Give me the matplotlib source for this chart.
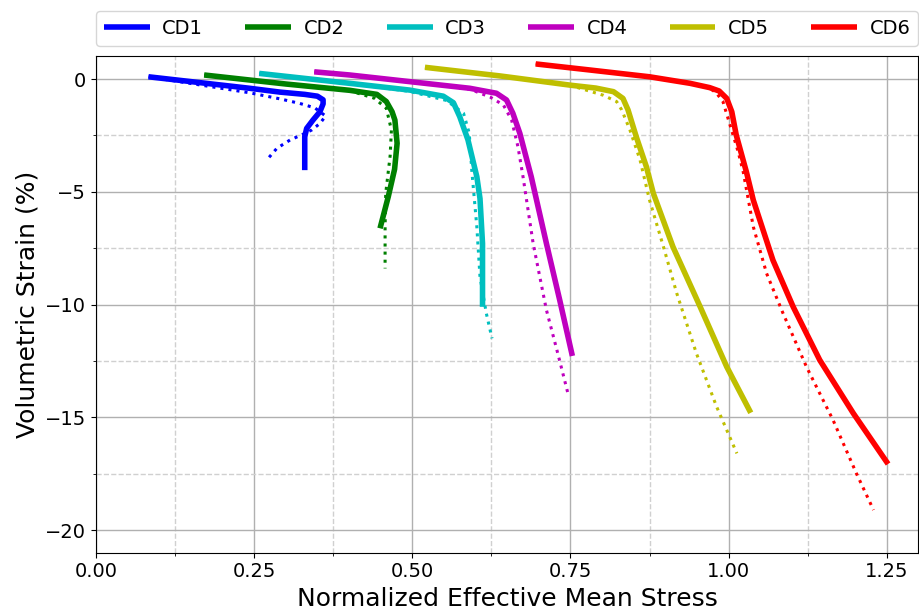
import matplotlib
matplotlib.use("Agg")
import matplotlib.pyplot as plt
from matplotlib.ticker import MultipleLocator

names = ["CD1", "CD2", "CD3", "CD4", "CD5", "CD6"]
colours = ["b", "g", "c", "m", "y", "r"]

# experiment (solid)
cd1_p = [0.083, 0.243, 0.291, 0.330, 0.350, 0.359, 0.359, 0.354, 0.343, 0.333, 0.330, 0.330]
cd1_v = [0.10, -0.41, -0.58, -0.68, -0.76, -0.92, -1.10, -1.45, -1.82, -2.19, -2.56, -4.04]
cd2_p = [0.171, 0.30, 0.401, 0.444, 0.459, 0.468, 0.4725, 0.476, 0.472, 0.462, 0.449]
cd2_v = [0.18, -0.22, -0.50, -0.68, -1.00, -1.45, -1.82, -2.85, -4.00, -5.22, -6.62]
cd3_p = [0.258, 0.401, 0.496, 0.549, 0.565, 0.575, 0.588, 0.602, 0.607, 0.611, 0.611]
cd3_v = [0.25, -0.19, -0.49, -0.76, -1.05, -1.67, -2.70, -4.33, -5.30, -7.29, -10.1]
cd4_p = [0.345, 0.401, 0.591, 0.633, 0.649, 0.659, 0.670, 0.688, 0.712, 0.733, 0.753]
cd4_v = [0.32, 0.18, -0.41, -0.63, -0.93, -1.52, -2.41, -4.33, -7.29, -9.80, -12.28]
cd5_p = [0.520, 0.638, 0.752, 0.790, 0.818, 0.833, 0.841, 0.854, 0.870, 0.881, 0.912, 0.955, 0.997, 1.035]
cd5_v = [0.52, 0.14, -0.28, -0.40, -0.56, -0.86, -1.37, -2.56, -3.89, -5.07, -7.44, -10.1, -12.76, -14.8]
cd6_p = [0.695, 0.781, 0.875, 0.939, 0.970, 0.985, 0.997, 1.005, 1.012, 1.028, 1.039, 1.070, 1.102, 1.144, 1.197, 1.252]
cd6_v = [0.67, 0.40, 0.10, -0.19, -0.38, -0.53, -0.86, -1.45, -2.48, -4.11, -5.37, -8.03, -10.1, -12.46, -14.82, -17.07]

# simulation (dotted)
sim1_p = [0.083, 0.191, 0.243, 0.291, 0.322, 0.346, 0.363, 0.354, 0.341, 0.328, 0.307, 0.286, 0.270]
sim1_v = [0.10, -0.38, -0.61, -0.88, -1.08, -1.28, -1.64, -1.97, -2.26, -2.44, -2.70, -3.07, -3.59]
sim2_p = [0.171, 0.30, 0.401, 0.440, 0.459, 0.467, 0.465, 0.458, 0.457, 0.457]
sim2_v = [0.18, -0.22, -0.52, -0.85, -1.30, -2.26, -3.40, -5.07, -6.55, -8.40]
sim3_p = [0.258, 0.401, 0.496, 0.554, 0.581, 0.590, 0.594, 0.602, 0.607, 0.617, 0.626]
sim3_v = [0.25, -0.19, -0.55, -0.95, -1.52, -2.40, -4.04, -6.55, -8.77, -10.39, -11.5]
sim4_p = [0.345, 0.401, 0.591, 0.623, 0.644, 0.657, 0.667, 0.675, 0.691, 0.712, 0.731, 0.746]
sim4_v = [0.32, 0.18, -0.45, -0.80, -1.15, -1.82, -3.00, -4.33, -7.29, -10.24, -12.28, -13.94]
sim5_p = [0.520, 0.638, 0.752, 0.802, 0.823, 0.831, 0.844, 0.860, 0.875, 0.897, 0.918, 0.949, 0.981, 1.013]
sim5_v = [0.52, 0.14, -0.30, -0.72, -1.00, -1.37, -2.26, -3.59, -5.37, -7.44, -9.50, -12.16, -14.53, -16.6]
sim6_p = [0.695, 0.781, 0.875, 0.939, 0.970, 0.981, 0.991, 1.015, 1.023, 1.039, 1.060, 1.086, 1.123, 1.165, 1.202, 1.229]
sim6_v = [0.67, 0.40, 0.10, -0.19, -0.40, -0.63, -1.00, -3.22, -4.11, -6.55, -8.62, -10.39, -12.76, -15.12, -17.49, -19.11]

exp_p = [cd1_p, cd2_p, cd3_p, cd4_p, cd5_p, cd6_p]
exp_v = [cd1_v, cd2_v, cd3_v, cd4_v, cd5_v, cd6_v]
sim_p = [sim1_p, sim2_p, sim3_p, sim4_p, sim5_p, sim6_p]
sim_v = [sim1_v, sim2_v, sim3_v, sim4_v, sim5_v, sim6_v]

fig = plt.figure(figsize=(9.2, 6.14), dpi=100)
ax = fig.add_axes([0.1043, 0.1, 0.894, 0.808])

for i in range(len(names)):
    ax.plot(sim_p[i], sim_v[i], ':', color=colours[i], lw=2.2)
    ax.plot(exp_p[i], exp_v[i], '-', color=colours[i], lw=4, label=names[i],
            solid_capstyle='butt', solid_joinstyle='round')

ax.set_xlim(0, 1.3)
ax.set_ylim(-21, 1)
ax.xaxis.set_major_locator(MultipleLocator(0.25))
ax.xaxis.set_minor_locator(MultipleLocator(0.125))
ax.yaxis.set_major_locator(MultipleLocator(5))
ax.yaxis.set_minor_locator(MultipleLocator(2.5))
ax.grid(which='major', color='#b0b0b0', lw=1)
ax.grid(which='minor', color='#d0d0d0', lw=1, ls='--')
ax.set_axisbelow(True)
ax.tick_params(labelsize=14)
ax.set_xlabel("Normalized Effective Mean Stress", fontsize=18)
ax.set_ylabel("Volumetric Strain (%)", fontsize=18)

ax.legend(loc='lower center', bbox_to_anchor=(0.5, 1.01), ncol=6, fontsize=14,
          handlelength=2.35, handletextpad=0.65, columnspacing=2.17,
          borderaxespad=0.3)

fig.savefig("out.png", dpi=100)
